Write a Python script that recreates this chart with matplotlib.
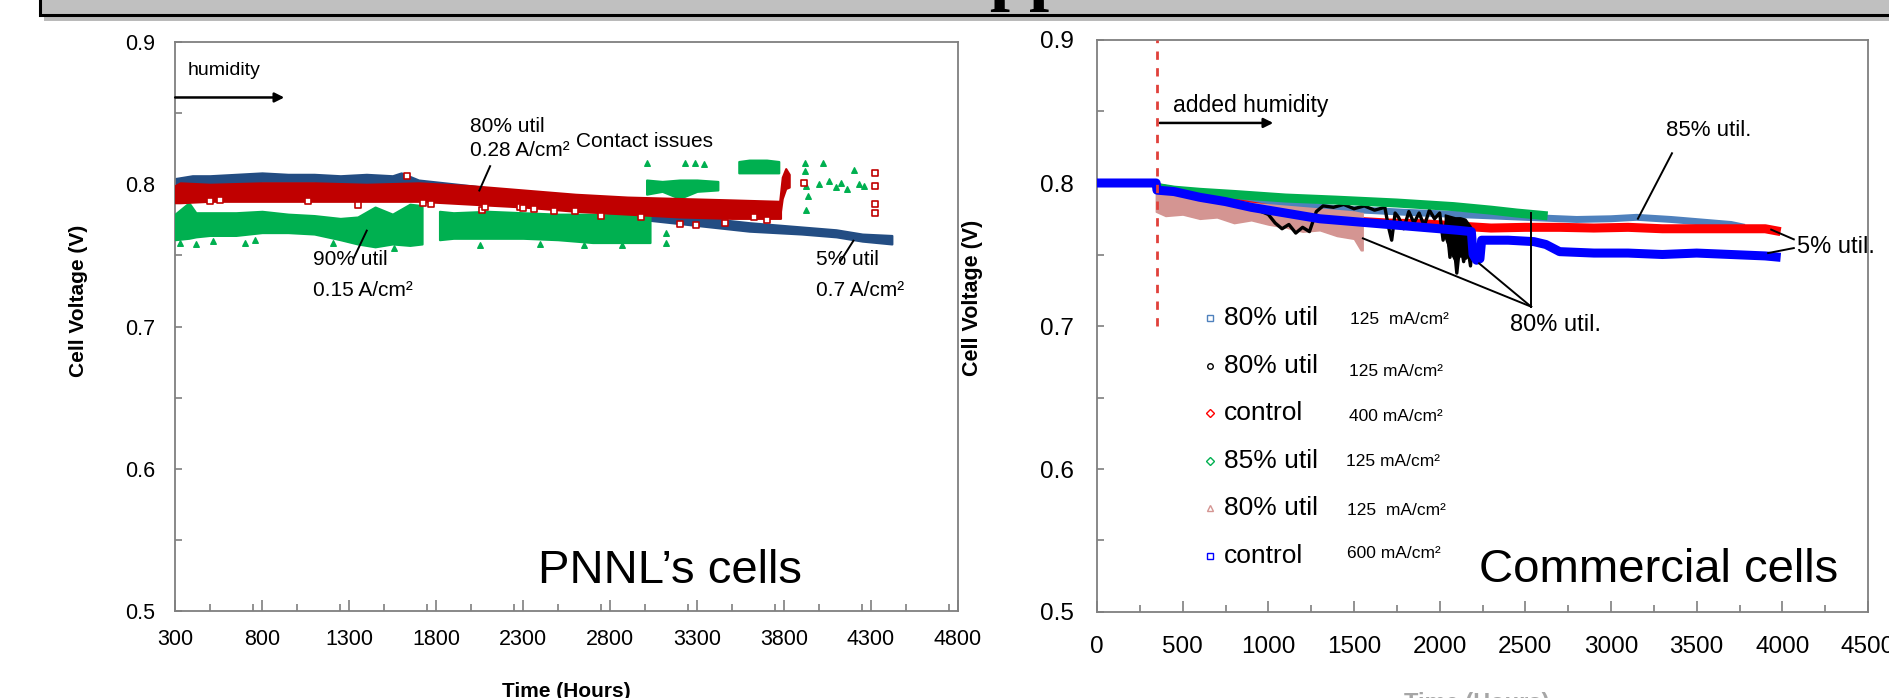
import matplotlib
matplotlib.use('Agg')
import matplotlib.pyplot as plt
from matplotlib.patches import Rectangle
from matplotlib.ticker import MultipleLocator

plt.rcParams['font.family'] = ['Liberation Sans', 'DejaVu Sans']

# ---------------- PNNL cells (left) ----------------
# 5% util, 0.7 A/cm2 (navy band)
pn_blue_t = [300, 400, 500, 650, 800, 950, 1100, 1250, 1400, 1550, 1600, 1700, 2000, 2500, 3000, 3300, 3600, 3900, 4100, 4250, 4420]
pn_blue_lo = [0.799, 0.800, 0.801, 0.801, 0.802, 0.802, 0.802, 0.801, 0.801, 0.801, 0.801, 0.798, 0.794, 0.786, 0.775, 0.771, 0.767, 0.765, 0.763, 0.760, 0.758]
pn_blue_hi = [0.804, 0.806, 0.806, 0.807, 0.808, 0.807, 0.807, 0.806, 0.807, 0.806, 0.808, 0.803, 0.799, 0.791, 0.781, 0.777, 0.773, 0.770, 0.768, 0.765, 0.764]

# 80% util, 0.28 A/cm2 (dark red band)
pn_red_t = [300, 330, 500, 800, 1100, 1400, 1700, 2000, 2300, 2600, 2900, 3200, 3500, 3780]
pn_red_lo = [0.787, 0.787, 0.788, 0.788, 0.788, 0.788, 0.788, 0.786, 0.784, 0.781, 0.779, 0.777, 0.776, 0.776]
pn_red_hi = [0.799, 0.801, 0.800, 0.801, 0.801, 0.800, 0.801, 0.799, 0.796, 0.793, 0.791, 0.790, 0.789, 0.788]
pn_red_jump_t = [3775, 3790, 3810, 3830]
pn_red_jump_lo = [0.777, 0.790, 0.797, 0.798]
pn_red_jump_hi = [0.788, 0.805, 0.811, 0.807]
pn_red_pts_t = [501, 560, 1066, 1354, 1631, 1726, 1770, 2064, 2079, 2280, 2300, 2366, 2480, 2600, 2748, 2980, 3200, 3295, 3460, 3630, 3700, 3917, 4321, 4321, 4321, 4321]
pn_red_pts_v = [0.788, 0.789, 0.7885, 0.7857, 0.8056, 0.7865, 0.786, 0.7817, 0.784, 0.784, 0.783, 0.7825, 0.781, 0.781, 0.778, 0.777, 0.772, 0.7715, 0.773, 0.777, 0.775, 0.801, 0.808, 0.799, 0.786, 0.780]

# 90% util, 0.15 A/cm2 (green bands)
pn_green_t = [300, 380, 420, 500, 650, 800, 950, 1100, 1250, 1350, 1450, 1550, 1650, 1720]
pn_green_lo = [0.761, 0.762, 0.763, 0.764, 0.764, 0.766, 0.766, 0.765, 0.761, 0.758, 0.756, 0.758, 0.757, 0.758]
pn_green_hi = [0.779, 0.787, 0.780, 0.780, 0.780, 0.781, 0.779, 0.778, 0.776, 0.777, 0.784, 0.779, 0.786, 0.785]
pn_green2_t = [1820, 1900, 2100, 2300, 2500, 2700, 2900, 3030]
pn_green2_lo = [0.761, 0.762, 0.762, 0.762, 0.761, 0.759, 0.759, 0.759]
pn_green2_hi = [0.781, 0.780, 0.781, 0.780, 0.779, 0.779, 0.778, 0.778]
pn_green3_t = [3010, 3100, 3200, 3300, 3420]
pn_green3_lo = [0.793, 0.795, 0.790, 0.795, 0.796]
pn_green3_hi = [0.803, 0.802, 0.803, 0.803, 0.802]
pn_green4_t = [3540, 3600, 3700, 3770]
pn_green4_lo = [0.808, 0.808, 0.808, 0.808]
pn_green4_hi = [0.816, 0.817, 0.817, 0.816]
pn_green_pts_t = [330, 420, 520, 700, 760, 1210, 1560, 2050, 2400, 2650, 2870,
                  3015, 3120, 3120, 3233, 3290, 3340, 3918, 3918, 3925, 3925, 3940, 4000, 4027, 4060, 4100, 4130, 4160, 4203, 4230, 4260]
pn_green_pts_v = [0.759, 0.758, 0.760, 0.759, 0.761, 0.759, 0.755, 0.757, 0.758, 0.757, 0.757,
                  0.815, 0.766, 0.759, 0.815, 0.815, 0.814, 0.815, 0.809, 0.799, 0.782, 0.792, 0.800, 0.815, 0.802, 0.798, 0.801, 0.797, 0.810, 0.800, 0.799]

# ---------------- Commercial cells (right) ----------------
cm_blue_t = [0, 345, 350, 450, 600, 750, 900, 1100, 1300, 1500, 1700, 1900, 2100, 2185, 2195, 2215, 2235, 2245, 2400, 2550, 2620, 2700, 2900, 3100, 3300, 3500, 3700, 3900, 3990]
cm_blue_v = [0.800, 0.800, 0.795, 0.794, 0.790, 0.787, 0.783, 0.779, 0.775, 0.773, 0.771, 0.769, 0.767, 0.766, 0.750, 0.746, 0.747, 0.760, 0.760, 0.759, 0.757, 0.752, 0.751, 0.751, 0.750, 0.751, 0.750, 0.749, 0.748]

cm_red_t = [345, 500, 800, 1100, 1400, 1550, 1700, 1900, 2100, 2300, 2500, 2700, 2900, 3100, 3300, 3500, 3700, 3900, 3990]
cm_red_v = [0.797, 0.793, 0.786, 0.780, 0.775, 0.773, 0.772, 0.7715, 0.770, 0.7685, 0.769, 0.769, 0.7685, 0.769, 0.768, 0.768, 0.768, 0.768, 0.766]

cm_steel_t = [345, 600, 1000, 1400, 1800, 2200, 2600, 2800, 3000, 3150, 3350, 3550, 3700, 3780]
cm_steel_v = [0.797, 0.793, 0.787, 0.782, 0.7795, 0.7775, 0.7755, 0.7745, 0.775, 0.776, 0.7745, 0.7725, 0.771, 0.769]

cm_green_t = [345, 450, 600, 800, 1100, 1400, 1750, 2080, 2300, 2450, 2630]
cm_green_v = [0.797, 0.795, 0.7935, 0.792, 0.7895, 0.788, 0.786, 0.7835, 0.781, 0.779, 0.777]

cm_pink_t = [344, 400, 500, 600, 700, 800, 900, 1000, 1100, 1200, 1300, 1400, 1500, 1540, 1550]
cm_pink_lo = [0.780, 0.777, 0.778, 0.775, 0.776, 0.772, 0.774, 0.771, 0.769, 0.766, 0.767, 0.763, 0.761, 0.753, 0.753]
cm_pink_hi = [0.797, 0.795, 0.793, 0.791, 0.790, 0.788, 0.786, 0.785, 0.784, 0.783, 0.782, 0.781, 0.780, 0.779, 0.779]

cm_black_t = [345, 380, 420, 470, 520, 580, 640, 700, 760, 820, 880, 940, 1000, 1040, 1080, 1120, 1160, 1200, 1240, 1280,
              1320, 1380, 1440, 1500, 1560, 1620, 1680, 1700, 1720, 1740, 1760, 1790, 1820, 1850, 1880, 1910, 1940, 1970,
              2000, 2020, 2040, 2060, 2080, 2100, 2120, 2140, 2160, 2180, 2195]
cm_black_v = [0.799, 0.796, 0.797, 0.794, 0.795, 0.792, 0.791, 0.788, 0.787, 0.786, 0.785, 0.781, 0.778, 0.772, 0.768, 0.771,
              0.765, 0.769, 0.766, 0.780, 0.784, 0.783, 0.785, 0.782, 0.784, 0.781, 0.783, 0.770, 0.760, 0.779, 0.776, 0.768,
              0.780, 0.772, 0.779, 0.770, 0.781, 0.775, 0.779, 0.760, 0.773, 0.748, 0.762, 0.737, 0.760, 0.745, 0.758, 0.742, 0.765]
cm_black_blk_t = [2030, 2060, 2090, 2120, 2150, 2180, 2195]
cm_black_blk_lo = [0.762, 0.752, 0.745, 0.749, 0.747, 0.750, 0.755]
cm_black_blk_hi = [0.778, 0.777, 0.776, 0.776, 0.775, 0.770, 0.766]

leg_labels = ['80% util', '80% util', 'control', '85% util', '80% util', 'control']
leg_currents = ['125  mA/cm²', '125 mA/cm²', '400 mA/cm²', '125 mA/cm²', '125  mA/cm²', '600 mA/cm²']
leg_v = [0.7054, 0.672, 0.639, 0.6056, 0.5725, 0.539]
leg_cur_v = [0.7042, 0.668, 0.6366, 0.605, 0.5713, 0.541]
leg_cur_t = [1477, 1470, 1468, 1455, 1462, 1458]

pn_xticks = [300, 800, 1300, 1800, 2300, 2800, 3300, 3800, 4300, 4800]
cm_xticks = [0, 500, 1000, 1500, 2000, 2500, 3000, 3500, 4000, 4500]
yticks = [0.5, 0.6, 0.7, 0.8, 0.9]

W, H = 1889, 698
fig = plt.figure(figsize=(W / 100, H / 100), dpi=100)

# banner at the top of the slide
fig.patches.append(Rectangle((44 / W, 1 - 21 / H), 1.2, 0.2, transform=fig.transFigure,
                             facecolor='#8c8c8c', edgecolor='none', alpha=0.6, zorder=0))
fig.patches.append(Rectangle((40 / W, 1 - 15 / H), 1.2, 0.2, transform=fig.transFigure,
                             facecolor='#c0c0c0', edgecolor='black', lw=2.2, zorder=1))
fig.text(0.545, 1.004, 'pp', fontsize=52, fontweight='bold', family='Liberation Serif',
         ha='center', va='baseline', zorder=2)

spine_col = '#7f7f7f'


def style_axes(ax, fs, ypad, xpad):
    for s in ax.spines.values():
        s.set_color(spine_col)
        s.set_linewidth(1.3)
    ax.yaxis.set_minor_locator(MultipleLocator(0.05))
    ax.set_yticks(yticks)
    ax.set_yticklabels([f'{v:.1f}' for v in yticks])
    ax.tick_params(axis='both', which='both', direction='in', color=spine_col, width=1.2, labelsize=fs)
    ax.tick_params(axis='y', which='both', length=5, pad=ypad)
    ax.tick_params(axis='x', which='major', length=8, pad=xpad)
    ax.tick_params(axis='x', which='minor', length=5)
    ax.tick_params(top=False, right=False, which='both')


# ---------------- left panel ----------------
ax1 = fig.add_axes([175 / W, 1 - 611 / H, (958 - 175) / W, (611 - 42) / H])
ax1.set_xlim(300, 4800)
ax1.set_ylim(0.5, 0.9)
ax1.set_xticks(pn_xticks)
ax1.xaxis.set_minor_locator(MultipleLocator(250))
style_axes(ax1, 15.5, 14, 13)

c_navy, c_dred, c_grn = '#234d83', '#c00000', '#00b050'
ax1.fill_between(pn_blue_t, pn_blue_lo, pn_blue_hi, color=c_navy, lw=1.5, zorder=2)
ax1.fill_between(pn_green_t, pn_green_lo, pn_green_hi, color=c_grn, lw=1.5, zorder=3)
ax1.fill_between(pn_green2_t, pn_green2_lo, pn_green2_hi, color=c_grn, lw=1.5, zorder=3)
ax1.fill_between(pn_green3_t, pn_green3_lo, pn_green3_hi, color=c_grn, lw=1.5, zorder=3)
ax1.fill_between(pn_green4_t, pn_green4_lo, pn_green4_hi, color=c_grn, lw=1.5, zorder=3)
ax1.scatter(pn_green_pts_t, pn_green_pts_v, marker='^', s=16, color=c_grn, zorder=3)
ax1.fill_between(pn_red_t, pn_red_lo, pn_red_hi, color=c_dred, lw=1.5, zorder=4)
ax1.fill_between(pn_red_jump_t, pn_red_jump_lo, pn_red_jump_hi, color=c_dred, lw=1.5, zorder=4)
ax1.scatter(pn_red_pts_t, pn_red_pts_v, marker='s', s=14, facecolor='white', edgecolor=c_dred, lw=1.2, zorder=4)

ax1.text(370, 0.880, 'humidity', fontsize=14, ha='left', va='center')
ax1.annotate('', xy=(944, 0.861), xytext=(285, 0.861), annotation_clip=False,
             arrowprops=dict(arrowstyle='-|>', lw=1.8, color='black', mutation_scale=14))
ax1.text(1995, 0.8406, '80% util', fontsize=15, ha='left', va='center')
ax1.text(1995, 0.8237, '0.28 A/cm²', fontsize=15, ha='left', va='center')
ax1.text(2604, 0.830, 'Contact issues', fontsize=15, ha='left', va='center')
ax1.text(1093, 0.7473, '90% util', fontsize=15, ha='left', va='center')
ax1.text(1093, 0.7253, '0.15 A/cm²', fontsize=15, ha='left', va='center')
ax1.text(3982, 0.7473, '5% util', fontsize=15, ha='left', va='center')
ax1.text(3982, 0.7253, '0.7 A/cm²', fontsize=15, ha='left', va='center')
ax1.plot([2111, 2049], [0.8127, 0.7956], color='black', lw=1.4, zorder=6)
ax1.plot([1327, 1402], [0.748, 0.7674], color='black', lw=1.4, zorder=6)
ax1.plot([4121, 4199], [0.7453, 0.7603], color='black', lw=1.4, zorder=6)
ax1.text(0.4636, 0.049, 'PNNL’s cells', transform=ax1.transAxes, fontsize=34, ha='left', va='baseline')
ax1.set_ylabel('Cell Voltage (V)', fontsize=15, fontweight='bold')
ax1.yaxis.set_label_coords(-0.111, 0.545)
ax1.set_xlabel('Time (Hours)', fontsize=15, fontweight='bold')
ax1.xaxis.set_label_coords(0.4994, -0.125)

# ---------------- right panel ----------------
ax2 = fig.add_axes([1097 / W, 1 - 612 / H, (1868 - 1097) / W, (612 - 40) / H])
ax2.set_xlim(0, 4500)
ax2.set_ylim(0.5, 0.9)
ax2.set_xticks(cm_xticks)
ax2.xaxis.set_minor_locator(MultipleLocator(250))
style_axes(ax2, 17.5, 17, 17)

c_blue, c_red, c_steel, c_g2, c_pink = '#0000ff', '#ff0000', '#4f81bd', '#00b050', '#d49592'
ax2.plot(cm_steel_t, cm_steel_v, color=c_steel, lw=5, zorder=2, solid_capstyle='butt')
ax2.plot(cm_red_t, cm_red_v, color=c_red, lw=6.5, zorder=3, solid_capstyle='butt')
ax2.fill_between(cm_pink_t, cm_pink_lo, cm_pink_hi, color=c_pink, lw=1.2, zorder=4)
ax2.plot(cm_black_t, cm_black_v, color='black', lw=2.4, zorder=5)
ax2.fill_between(cm_black_blk_t, cm_black_blk_lo, cm_black_blk_hi, color='black', lw=1, zorder=5)
ax2.plot(cm_green_t, cm_green_v, color=c_g2, lw=6.5, zorder=6, solid_capstyle='butt')
ax2.plot(cm_blue_t, cm_blue_v, color=c_blue, lw=6.5, zorder=7, solid_capstyle='butt')

ax2.plot([350, 350], [0.7, 0.9], color='#e0403a', lw=2, ls=(0, (3, 3)), zorder=8)
ax2.text(443, 0.8545, 'added humidity', fontsize=16.5, ha='left', va='center')
ax2.annotate('', xy=(1045, 0.842), xytext=(350, 0.842),
             arrowprops=dict(arrowstyle='-|>', lw=1.8, color='black', mutation_scale=14))
ax2.text(3322, 0.837, '85% util.', fontsize=16, ha='left', va='center')
ax2.plot([3356, 3157], [0.8208, 0.775], color='black', lw=1.4, zorder=9)
ax2.text(4083, 0.7555, '5% util.', fontsize=17, ha='left', va='center')
ax2.plot([4067, 3935], [0.7606, 0.7674], color='black', lw=1.4, zorder=9)
ax2.plot([4067, 3917], [0.7545, 0.751], color='black', lw=1.4, zorder=9)
ax2.text(2408, 0.7007, '80% util.', fontsize=17, ha='left', va='center')
ax2.plot([1552, 2534], [0.7613, 0.7135], color='black', lw=1.4, zorder=9)
ax2.plot([2230, 2534], [0.7438, 0.7135], color='black', lw=1.4, zorder=9)
ax2.plot([2534, 2534], [0.7788, 0.7135], color='black', lw=1.4, zorder=9)

leg_styles = [('s', c_steel), ('o', 'black'), ('D', c_red), ('D', c_g2), ('^', c_pink), ('s', c_blue)]
for (mk, col), lab, cur, yv, yc, tc in zip(leg_styles, leg_labels, leg_currents, leg_v, leg_cur_v, leg_cur_t):
    ax2.plot([658], [yv], marker=mk, ms=4, mfc='white', mec=col, mew=1, ls='none')
    ax2.text(741, yv, lab, fontsize=19, ha='left', va='center')
    ax2.text(tc, yc, cur, fontsize=12.5, ha='left', va='center')

ax2.text(0.4955, 0.052, 'Commercial cells', transform=ax2.transAxes, fontsize=34, ha='left', va='baseline')
ax2.set_ylabel('Cell Voltage (V)', fontsize=15.5, fontweight='bold')
ax2.yaxis.set_label_coords(-0.148, 0.549)
ax2.set_xlabel('Time (Hours)', fontsize=17, fontweight='bold', color='#a6a6a6')
ax2.xaxis.set_label_coords(0.492, -0.139)

fig.savefig('out.png', dpi=100, facecolor='white')
